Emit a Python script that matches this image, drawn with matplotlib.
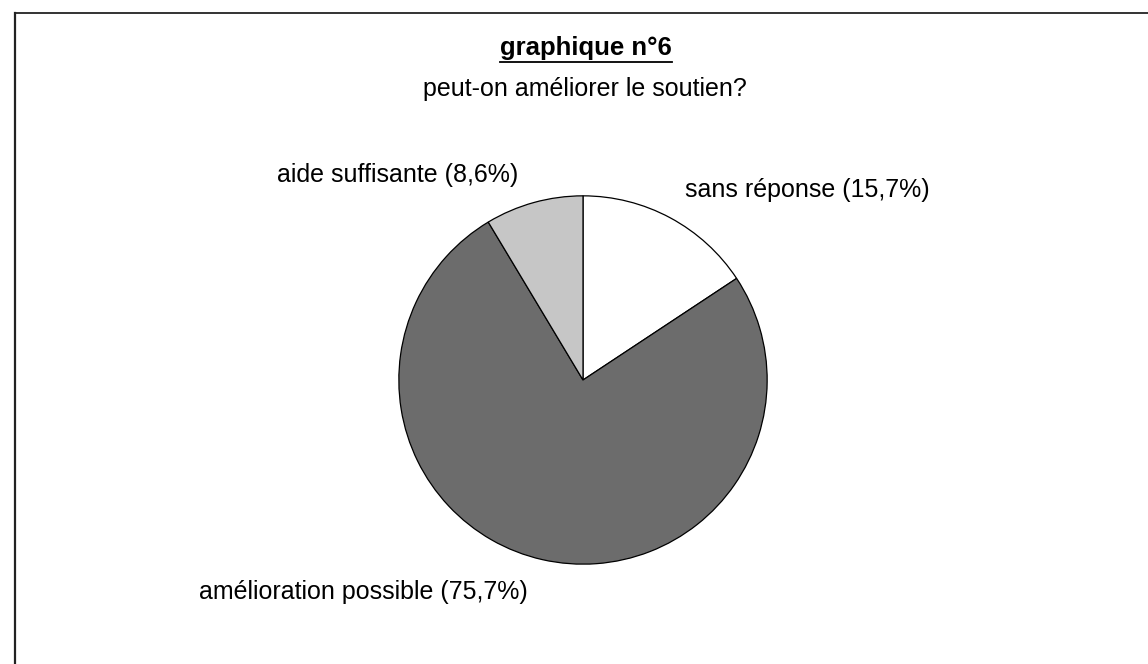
import matplotlib
matplotlib.use("Agg")
import matplotlib.pyplot as plt
from matplotlib.lines import Line2D

# ── Data ───────────────────────────────────────────────────────────────────────

categories = ["sans réponse", "amélioration possible", "aide suffisante"]
percent    = [15.7, 75.7, 8.6]
pct_labels = ["15,7%", "75,7%", "8,6%"]
colors     = ["#ffffff", "#6c6c6c", "#c6c6c6"]

TITLE    = "graphique n°6"
SUBTITLE = "peut-on améliorer le soutien?"

W, H = 1148, 664
plt.rcParams["font.family"] = ["Liberation Sans", "DejaVu Sans"]


def px(x, y):
    """pixel coords (top-left origin) -> figure fraction"""
    return x / W, 1 - y / H


fig = plt.figure(figsize=(W / 100, H / 100), dpi=100)
fig.patch.set_facecolor("white")

# pie axes: centre (583, 380), radius 186 px
cx, cy, r = 583, 380, 186
ax = fig.add_axes([(cx - r) / W, (H - cy - r) / H, 2 * r / W, 2 * r / H])
ax.pie(percent, colors=colors, startangle=90, counterclock=False,
       wedgeprops=dict(edgecolor="black", linewidth=0.9))
ax.set_xlim(-1.01, 1.01)
ax.set_ylim(-1.01, 1.01)
ax.set_aspect("equal")
ax.axis("off")

# slice labels
label_pos = {
    "sans réponse":          (685, 190),
    "amélioration possible": (199, 592),
    "aide suffisante":       (277, 175),
}
for cat, pl in zip(categories, pct_labels):
    x, y = label_pos[cat]
    fig.text(*px(x, y), f"{cat} ({pl})", fontsize=18, ha="left", va="center")

# title (bold, underlined) + subtitle
t = fig.text(*px(586, 48), TITLE, fontsize=18.5, fontweight="bold",
             ha="center", va="center")
fig.text(*px(585, 89), SUBTITLE, fontsize=18, ha="center", va="center")

fig.canvas.draw()
bb = t.get_window_extent(renderer=fig.canvas.get_renderer())
uy = bb.y0 - 1.5
fig.add_artist(Line2D([bb.x0 / W, bb.x1 / W], [uy / H, uy / H],
                      transform=fig.transFigure, color="black", lw=1.3))

# frame (top and left edges visible in the scan)
fig.add_artist(Line2D([15 / W, 1.0], [1 - 13 / H, 1 - 13 / H],
                      transform=fig.transFigure, color="#333333", lw=1.4))
fig.add_artist(Line2D([15 / W, 15 / W], [1 - 13 / H, 0.0],
                      transform=fig.transFigure, color="#222222", lw=1.6))

fig.savefig("out.png", dpi=100)
